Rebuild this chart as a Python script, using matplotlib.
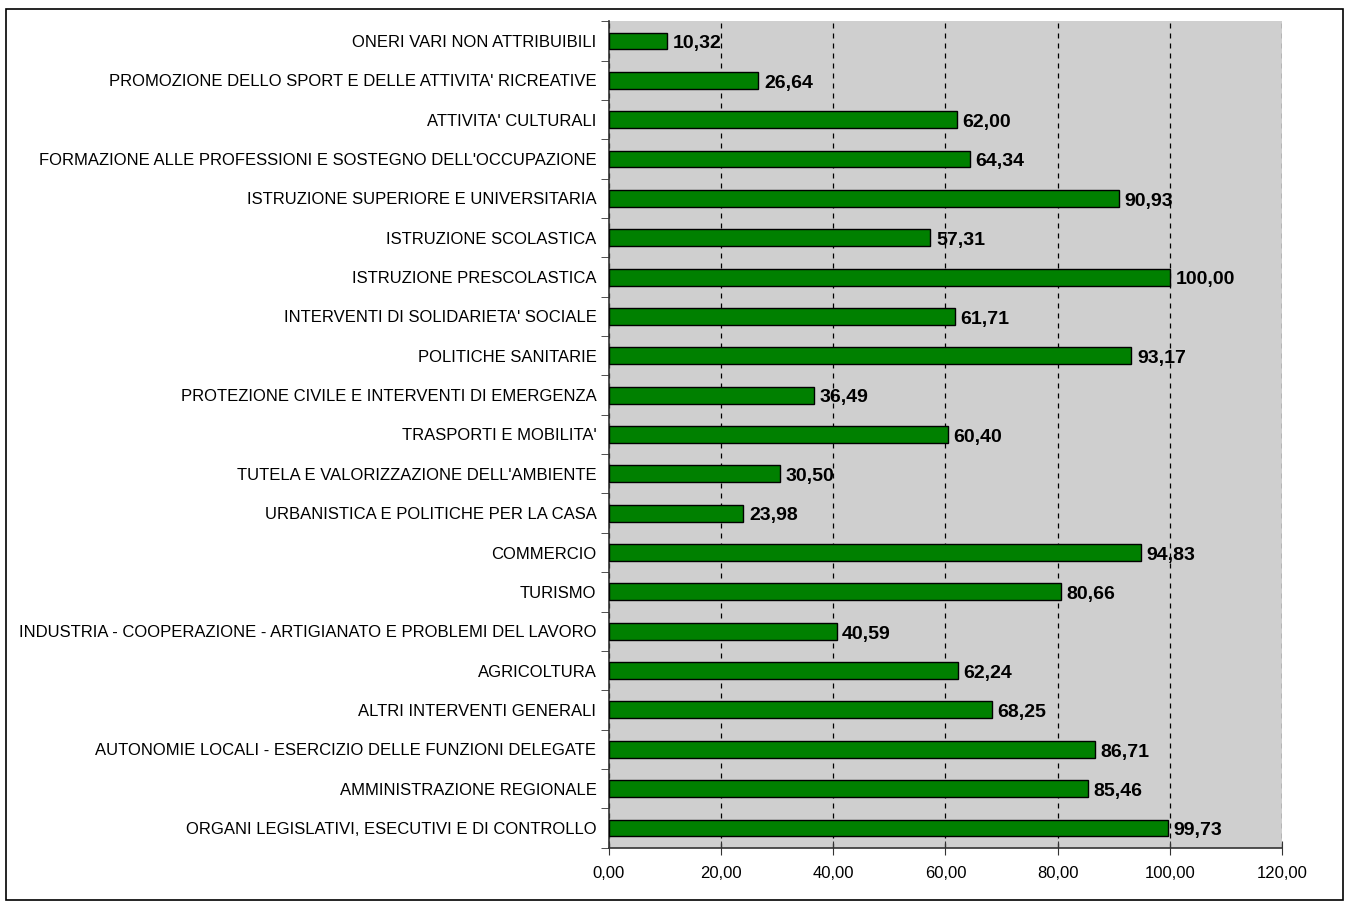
import matplotlib.pyplot as plt
import numpy as np
from matplotlib.patches import Rectangle
from matplotlib.ticker import FuncFormatter, FixedLocator

plt.rcParams["font.family"] = ["Liberation Sans", "DejaVu Sans"]

categories = [
    "ONERI VARI NON ATTRIBUIBILI",
    "PROMOZIONE DELLO SPORT E DELLE ATTIVITA' RICREATIVE",
    "ATTIVITA' CULTURALI",
    "FORMAZIONE ALLE PROFESSIONI E SOSTEGNO DELL'OCCUPAZIONE",
    "ISTRUZIONE SUPERIORE E UNIVERSITARIA",
    "ISTRUZIONE SCOLASTICA",
    "ISTRUZIONE PRESCOLASTICA",
    "INTERVENTI DI SOLIDARIETA' SOCIALE",
    "POLITICHE SANITARIE",
    "PROTEZIONE CIVILE E INTERVENTI DI EMERGENZA",
    "TRASPORTI E MOBILITA'",
    "TUTELA E VALORIZZAZIONE DELL'AMBIENTE",
    "URBANISTICA E POLITICHE PER LA CASA",
    "COMMERCIO",
    "TURISMO",
    "INDUSTRIA - COOPERAZIONE - ARTIGIANATO E PROBLEMI DEL LAVORO",
    "AGRICOLTURA",
    "ALTRI INTERVENTI GENERALI",
    "AUTONOMIE LOCALI - ESERCIZIO DELLE FUNZIONI DELEGATE",
    "AMMINISTRAZIONE REGIONALE",
    "ORGANI LEGISLATIVI, ESECUTIVI E DI CONTROLLO",
]
values = [10.32, 26.64, 62.00, 64.34, 90.93, 57.31, 100.00, 61.71, 93.17, 36.49,
          60.40, 30.50, 23.98, 94.83, 80.66, 40.59, 62.24, 68.25, 86.71, 85.46, 99.73]
x_ticks = [0, 20, 40, 60, 80, 100, 120]


def comma(v, pos=None):
    return f"{v:.2f}".replace(".", ",")


fig = plt.figure(figsize=(13.49, 9.06), dpi=100)
ax = fig.add_axes([0.4514, 0.0644, 0.4989, 0.9121])
ax.set_facecolor("#CFCFCF")

n = len(categories)
y = np.arange(n)[::-1]
ax.barh(y, values, height=0.43, color="#008000", edgecolor="black", linewidth=1, zorder=3)

for yi, v in zip(y, values):
    ax.annotate(comma(v), (v, yi), xytext=(4, -2), textcoords="offset points",
                ha="left", va="center", fontsize=14, fontweight="bold", zorder=4)

ax.set_xlim(0, 120)
ax.set_ylim(-0.5, n - 0.5)
ax.xaxis.set_major_locator(FixedLocator(x_ticks))
ax.xaxis.set_major_formatter(FuncFormatter(comma))
ax.grid(axis="x", color="black", linestyle=(0, (4, 4)), linewidth=0.9, zorder=1)

ax.set_yticks(y)
ax.set_yticklabels(categories)
ax.set_yticks(np.arange(-0.5, n, 1), minor=True)
ax.tick_params(axis="y", which="major", length=0, pad=9, labelsize=12)
ax.tick_params(axis="y", which="minor", length=6, direction="out", color="#333333")
ax.tick_params(axis="x", which="major", length=10, direction="inout", pad=8,
               labelsize=12, color="#333333")

for side in ["top", "right"]:
    ax.spines[side].set_visible(False)
ax.spines["left"].set_color("#333333")
ax.spines["bottom"].set_color("#333333")
ax.spines["left"].set_linewidth(1.2)
ax.spines["bottom"].set_linewidth(1.2)

fig.patches.append(Rectangle((6 / 1349, 6 / 906), 1337 / 1349, 891 / 906,
                             transform=fig.transFigure, fill=False,
                             edgecolor="black", linewidth=1.2))

fig.savefig("out.png", dpi=100)
